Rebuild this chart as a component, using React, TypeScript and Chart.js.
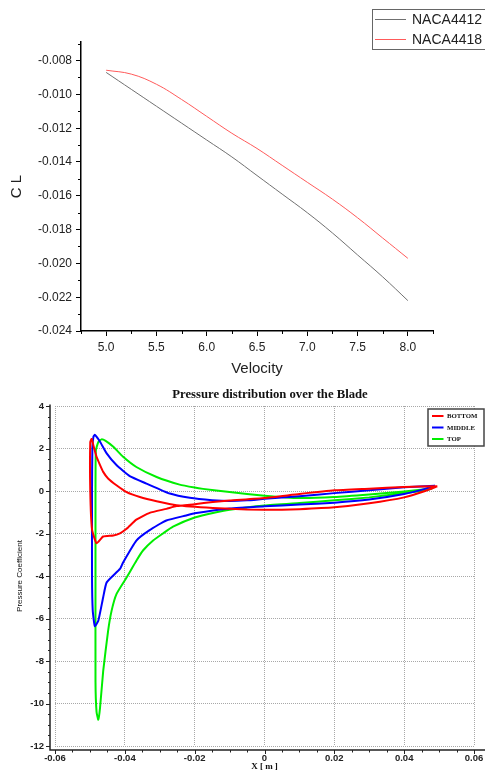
import React, { useEffect, useRef } from "react";
import { Chart, registerables } from "chart.js";

Chart.register(...registerables);

// ---------------- Top chart: CL vs Velocity ----------------
const VELOCITY = [5.0, 5.25, 5.5, 5.75, 6.0, 6.25, 6.5, 6.75, 7.0, 7.25, 7.5, 7.75, 8.0];
const CL_NACA4412 = [-0.0087, -0.0097, -0.0107, -0.0117, -0.0127, -0.0137, -0.0148, -0.0159, -0.017, -0.0182, -0.0195, -0.0208, -0.0222];
const CL_NACA4418 = [-0.00857, -0.0088, -0.0094, -0.0103, -0.0113, -0.0123, -0.0132, -0.0142, -0.0152, -0.0162, -0.0173, -0.0185, -0.0197];
const TOP_SERIES = ["NACA4412", "NACA4418"];
const TOP_COLORS = ["#707070", "#ff5a5a"];
const VEL_TICKS = [5.0, 5.5, 6.0, 6.5, 7.0, 7.5, 8.0];
const CL_TICKS = [-0.024, -0.022, -0.02, -0.018, -0.016, -0.014, -0.012, -0.01, -0.008];

// ---------------- Bottom chart: pressure distribution ----------------
const BOTTOM_X = [0.0495, 0.04, 0.03, 0.02, 0.01, 0.0, -0.01, -0.0148, -0.02, -0.0252, -0.0281, -0.0329, -0.0367, -0.0395, -0.0414, -0.0433, -0.0462, -0.0481, -0.0494, -0.0499, -0.0499, -0.0495, -0.0489, -0.0481, -0.0471, -0.0462, -0.0448, -0.0424, -0.0395, -0.0357, -0.0309, -0.0252, -0.0148, -0.005, 0.005, 0.01, 0.02, 0.03, 0.04, 0.046, 0.0495];
const BOTTOM_Y = [0.22, 0.19, 0.11, 0.03, -0.14, -0.33, -0.45, -0.52, -0.62, -0.71, -0.84, -1.03, -1.35, -1.78, -1.99, -2.09, -2.14, -2.46, -1.8, 0.0, 2.3, 2.45, 2.08, 1.61, 1.22, 0.9, 0.59, 0.27, -0.05, -0.28, -0.48, -0.67, -0.8, -0.87, -0.88, -0.86, -0.77, -0.58, -0.3, 0.0, 0.22];
const MIDDLE_X = [0.0488, 0.046, 0.04, 0.03, 0.02, 0.01, 0.0, -0.01, -0.02, -0.0224, -0.0281, -0.0329, -0.0367, -0.0405, -0.0414, -0.0452, -0.0462, -0.0476, -0.0486, -0.0492, -0.0494, -0.0494, -0.0493, -0.049, -0.0486, -0.0471, -0.0452, -0.0424, -0.0386, -0.0338, -0.0271, -0.0214, -0.015, -0.01, -0.005, 0.0, 0.01, 0.02, 0.03, 0.04, 0.0488];
const MIDDLE_Y = [0.25, 0.1, -0.14, -0.4, -0.55, -0.64, -0.72, -0.82, -1.05, -1.15, -1.39, -1.84, -2.33, -3.36, -3.67, -4.3, -5.0, -6.11, -6.36, -5.6, -4.0, 0.0, 2.0, 2.55, 2.64, 2.32, 1.77, 1.22, 0.7, 0.35, -0.12, -0.32, -0.43, -0.47, -0.44, -0.37, -0.25, -0.1, 0.04, 0.18, 0.25];
const TOP_X = [0.048, 0.046, 0.04, 0.03, 0.02, 0.01, 0.0, -0.01, -0.0138, -0.02, -0.0262, -0.0291, -0.0319, -0.0348, -0.0367, -0.0395, -0.0424, -0.0438, -0.0448, -0.0462, -0.0471, -0.0476, -0.0481, -0.0484, -0.0484, -0.0484, -0.0483, -0.0476, -0.0467, -0.0455, -0.0433, -0.0405, -0.0367, -0.0309, -0.0243, -0.02, -0.0176, -0.01, 0.0, 0.01, 0.02, 0.03, 0.04, 0.048];
const TOP_Y = [0.12, 0.02, -0.1, -0.3, -0.44, -0.56, -0.68, -0.88, -1.0, -1.25, -1.68, -2.0, -2.33, -2.8, -3.28, -4.07, -4.85, -5.64, -6.59, -8.48, -10.2, -10.76, -10.4, -9.0, -4.0, 0.0, 1.9, 2.3, 2.43, 2.36, 2.08, 1.61, 1.13, 0.66, 0.3, 0.16, 0.1, -0.05, -0.22, -0.33, -0.28, -0.16, -0.02, 0.12];
const CP_SERIES = ["BOTTOM", "MIDDLE", "TOP"];
const CP_COLORS = ["#ff0000", "#0000ff", "#00ee00"];
const XPOS_TICKS = [-0.06, -0.04, -0.02, 0, 0.02, 0.04, 0.06];
const CP_TICKS = [-12, -10, -8, -6, -4, -2, 0, 2, 4];

const zip = (xs: number[], ys: number[]) => xs.map((x, i) => ({ x, y: ys[i] }));

function subdivide(ticks: number[], n: number) {
  const out: { v: number; major: boolean }[] = [];
  const step = ticks[1] - ticks[0];
  for (let i = 0; i < ticks.length; i++) {
    out.push({ v: ticks[i], major: true });
    if (i < ticks.length - 1) for (let j = 1; j < n; j++) out.push({ v: ticks[i] + (j * step) / n, major: false });
  }
  return out;
}

const noPad = (s: any) => {
  s.paddingLeft = 0;
  s.paddingRight = 0;
  s.paddingTop = 0;
  s.paddingBottom = 0;
};

const topDecor = {
  id: "topDecor",
  afterDraw(chart: any) {
    const { ctx, chartArea: ca, scales } = chart;
    const x = scales.x;
    const y = scales.y;
    ctx.save();
    ctx.strokeStyle = "#000";
    ctx.lineWidth = 1;
    const xStep = VEL_TICKS[1] - VEL_TICKS[0];
    const xMinor = [VEL_TICKS[0] - xStep / 2, ...VEL_TICKS.map((v) => v + xStep / 2)];
    for (const v of xMinor) {
      if (v < x.min - 1e-9 || v > x.max + 1e-9) continue;
      const px = Math.round(x.getPixelForValue(v)) + 0.5;
      ctx.beginPath();
      ctx.moveTo(px, ca.bottom);
      ctx.lineTo(px, ca.bottom + 3);
      ctx.stroke();
    }
    const yStep = CL_TICKS[1] - CL_TICKS[0];
    const yMinor = CL_TICKS.map((v) => v + yStep / 2);
    for (const v of yMinor) {
      if (v < y.min - 1e-9 || v > y.max + 1e-9) continue;
      const py = Math.round(y.getPixelForValue(v)) + 0.5;
      ctx.beginPath();
      ctx.moveTo(ca.left, py);
      ctx.lineTo(ca.left - 3, py);
      ctx.stroke();
    }
    // legend
    const bx = 372, by = 9, bw = 120, bh = 40;
    ctx.fillStyle = "#fff";
    ctx.fillRect(bx, by, bw, bh);
    ctx.strokeStyle = "#666";
    ctx.lineWidth = 1;
    ctx.strokeRect(bx + 0.5, by + 0.5, bw, bh);
    ctx.font = '14px "Liberation Sans", Arial, sans-serif';
    ctx.textBaseline = "middle";
    ctx.textAlign = "left";
    TOP_SERIES.forEach((name, i) => {
      const ly = by + 10.5 + i * 20;
      ctx.strokeStyle = TOP_COLORS[i];
      ctx.lineWidth = 1;
      ctx.beginPath();
      ctx.moveTo(bx + 3, ly);
      ctx.lineTo(bx + 34, ly);
      ctx.stroke();
      ctx.fillStyle = "#222";
      ctx.fillText(name, bx + 40, ly + 1);
    });
    ctx.restore();
  },
};

const bottomDecor = {
  id: "bottomDecor",
  afterDraw(chart: any) {
    const { ctx, chartArea: ca, scales } = chart;
    const x = scales.x;
    const y = scales.y;
    const axX = ca.left - 5;
    const axY = ca.bottom + 4;
    ctx.save();
    ctx.strokeStyle = "#222";
    ctx.lineWidth = 1.5;
    ctx.beginPath();
    ctx.moveTo(axX, ca.top - 1.5);
    ctx.lineTo(axX, axY);
    ctx.lineTo(chart.width, axY);
    ctx.stroke();
    ctx.lineWidth = 1;
    for (const t of subdivide(CP_TICKS, 4)) {
      const py = Math.round(y.getPixelForValue(t.v)) + 0.5;
      ctx.beginPath();
      ctx.moveTo(axX, py);
      ctx.lineTo(axX - (t.major ? 4 : 2), py);
      ctx.stroke();
    }
    for (const t of subdivide(XPOS_TICKS, 4)) {
      const px = Math.round(x.getPixelForValue(t.v)) + 0.5;
      ctx.beginPath();
      ctx.moveTo(px, axY);
      ctx.lineTo(px, axY + (t.major ? 4 : 2.5));
      ctx.stroke();
    }
    // title
    ctx.fillStyle = "#111";
    ctx.font = 'bold 12.7px "Liberation Serif", "Times New Roman", serif';
    ctx.textAlign = "center";
    ctx.textBaseline = "middle";
    ctx.fillText("Pressure distribution over the Blade", (ca.left + ca.right) / 2 + 5.5, 9.5);
    // legend
    const bx = 428, by = 24, bw = 56, bh = 37;
    ctx.fillStyle = "#fff";
    ctx.fillRect(bx, by, bw, bh);
    ctx.strokeStyle = "#444";
    ctx.lineWidth = 1.5;
    ctx.strokeRect(bx, by, bw, bh);
    ctx.font = 'bold 6.8px "Liberation Serif", "Times New Roman", serif';
    ctx.textAlign = "left";
    CP_SERIES.forEach((name, i) => {
      const ly = by + 7 + i * 11.5;
      ctx.strokeStyle = CP_COLORS[i];
      ctx.lineWidth = 2;
      ctx.beginPath();
      ctx.moveTo(bx + 4, ly);
      ctx.lineTo(bx + 15.5, ly);
      ctx.stroke();
      ctx.fillStyle = "#111";
      ctx.fillText(name, bx + 19, ly + 0.5);
    });
    ctx.restore();
  },
};

export default function App() {
  const topRef = useRef<HTMLCanvasElement>(null);
  const botRef = useRef<HTMLCanvasElement>(null);

  useEffect(() => {
    const tickFont = { family: '"Liberation Sans", Arial, sans-serif', size: 12 };
    const top = new Chart(topRef.current as HTMLCanvasElement, {
      type: "scatter",
      data: {
        datasets: [
          { label: TOP_SERIES[0], data: zip(VELOCITY, CL_NACA4412), borderColor: TOP_COLORS[0], borderWidth: 1, showLine: true, pointRadius: 0, tension: 0.4 },
          { label: TOP_SERIES[1], data: zip(VELOCITY, CL_NACA4418), borderColor: TOP_COLORS[1], borderWidth: 1, showLine: true, pointRadius: 0, tension: 0.4 },
        ],
      },
      options: {
        animation: false,
        responsive: false,
        devicePixelRatio: 1,
        layout: { padding: { top: 42, right: 52, left: 0, bottom: 0 } },
        plugins: { legend: { display: false }, title: { display: false }, tooltip: { enabled: false } },
        scales: {
          x: {
            type: "linear",
            min: 4.75,
            max: 8.25,
            afterBuildTicks: (s: any) => { s.ticks = VEL_TICKS.map((v) => ({ value: v })); },
            afterFit: (s: any) => { s.height = 54; noPad(s); },
            ticks: { autoSkip: false, maxRotation: 0, padding: 4, color: "#222", font: tickFont, callback: (v: any) => Number(v).toFixed(1) },
            grid: { drawOnChartArea: false, drawTicks: true, tickLength: 5, tickColor: "#000", tickWidth: 1 },
            border: { display: true, color: "#000", width: 1.5 },
            title: { display: true, text: "Velocity", color: "#222", font: { family: '"Liberation Sans", Arial, sans-serif', size: 15 }, padding: { top: 0, bottom: 7 } },
          },
          y: {
            type: "linear",
            min: -0.024,
            max: -0.0069,
            afterBuildTicks: (s: any) => { s.ticks = CL_TICKS.map((v) => ({ value: v })); },
            afterFit: (s: any) => { s.width = 81; noPad(s); },
            ticks: { autoSkip: false, padding: 4, color: "#222", font: tickFont, callback: (v: any) => Number(v).toFixed(3) },
            grid: { drawOnChartArea: false, drawTicks: true, tickLength: 5, tickColor: "#000", tickWidth: 1 },
            border: { display: true, color: "#000", width: 1.5 },
            title: { display: true, text: "C L", color: "#222", font: { family: '"Liberation Sans", Arial, sans-serif', size: 15 }, padding: { top: 8, bottom: 0 } },
          },
        },
      } as any,
      plugins: [topDecor],
    });

    const boldTick = { family: '"Liberation Sans", Arial, sans-serif', size: 9.5, weight: "bold" as const };
    const bot = new Chart(botRef.current as HTMLCanvasElement, {
      type: "scatter",
      data: {
        datasets: [
          { label: CP_SERIES[0], data: zip(BOTTOM_X, BOTTOM_Y), borderColor: CP_COLORS[0], borderWidth: 2, showLine: true, pointRadius: 0, tension: 0.15 },
          { label: CP_SERIES[1], data: zip(MIDDLE_X, MIDDLE_Y), borderColor: CP_COLORS[1], borderWidth: 2, showLine: true, pointRadius: 0, tension: 0.15 },
          { label: CP_SERIES[2], data: zip(TOP_X, TOP_Y), borderColor: CP_COLORS[2], borderWidth: 2, showLine: true, pointRadius: 0, tension: 0.15 },
        ],
      },
      options: {
        animation: false,
        responsive: false,
        devicePixelRatio: 1,
        layout: { padding: { top: 21, right: 11, left: 0, bottom: 0 } },
        plugins: { legend: { display: false }, title: { display: false }, tooltip: { enabled: false } },
        scales: {
          x: {
            type: "linear",
            min: -0.06,
            max: 0.06,
            afterBuildTicks: (s: any) => { s.ticks = XPOS_TICKS.map((v) => ({ value: v })); },
            afterFit: (s: any) => { s.height = 25; noPad(s); },
            ticks: { autoSkip: false, maxRotation: 0, padding: 7, color: "#222", font: boldTick, callback: (v: any) => (Math.abs(Number(v)) < 1e-9 ? "0" : Number(v).toFixed(2)) },
            grid: { display: true, drawOnChartArea: true, drawTicks: false, color: "#a8a8a8", lineWidth: 1 },
            border: { display: false, dash: [1, 1] },
            title: { display: true, text: "X [ m ]", color: "#111", font: { family: '"Liberation Serif", "Times New Roman", serif', size: 9, weight: "bold", lineHeight: 1 }, padding: { top: 0, bottom: 0 } },
          },
          y: {
            type: "linear",
            min: -12,
            max: 4,
            afterBuildTicks: (s: any) => { s.ticks = CP_TICKS.map((v) => ({ value: v })); },
            afterFit: (s: any) => { s.width = 55; noPad(s); },
            ticks: { autoSkip: false, padding: 11, color: "#222", font: boldTick, callback: (v: any) => String(Number(v)) },
            grid: { display: true, drawOnChartArea: true, drawTicks: false, color: "#a8a8a8", lineWidth: 1 },
            border: { display: false, dash: [1, 1] },
            title: { display: true, text: "Pressure Coefficient", color: "#111", font: { family: '"Liberation Sans", Arial, sans-serif', size: 8 }, padding: { top: 15, bottom: 0 } },
          },
        },
      } as any,
      plugins: [bottomDecor],
    });

    return () => {
      top.destroy();
      bot.destroy();
    };
  }, []);

  return (
    <div style={{ position: "absolute", left: 0, top: 0, width: 485, height: 771, background: "#fff" }}>
      <canvas ref={topRef} width={485} height={385} style={{ display: "block", width: 485, height: 385 }} />
      <canvas ref={botRef} width={485} height={386} style={{ display: "block", width: 485, height: 386 }} />
    </div>
  );
}
